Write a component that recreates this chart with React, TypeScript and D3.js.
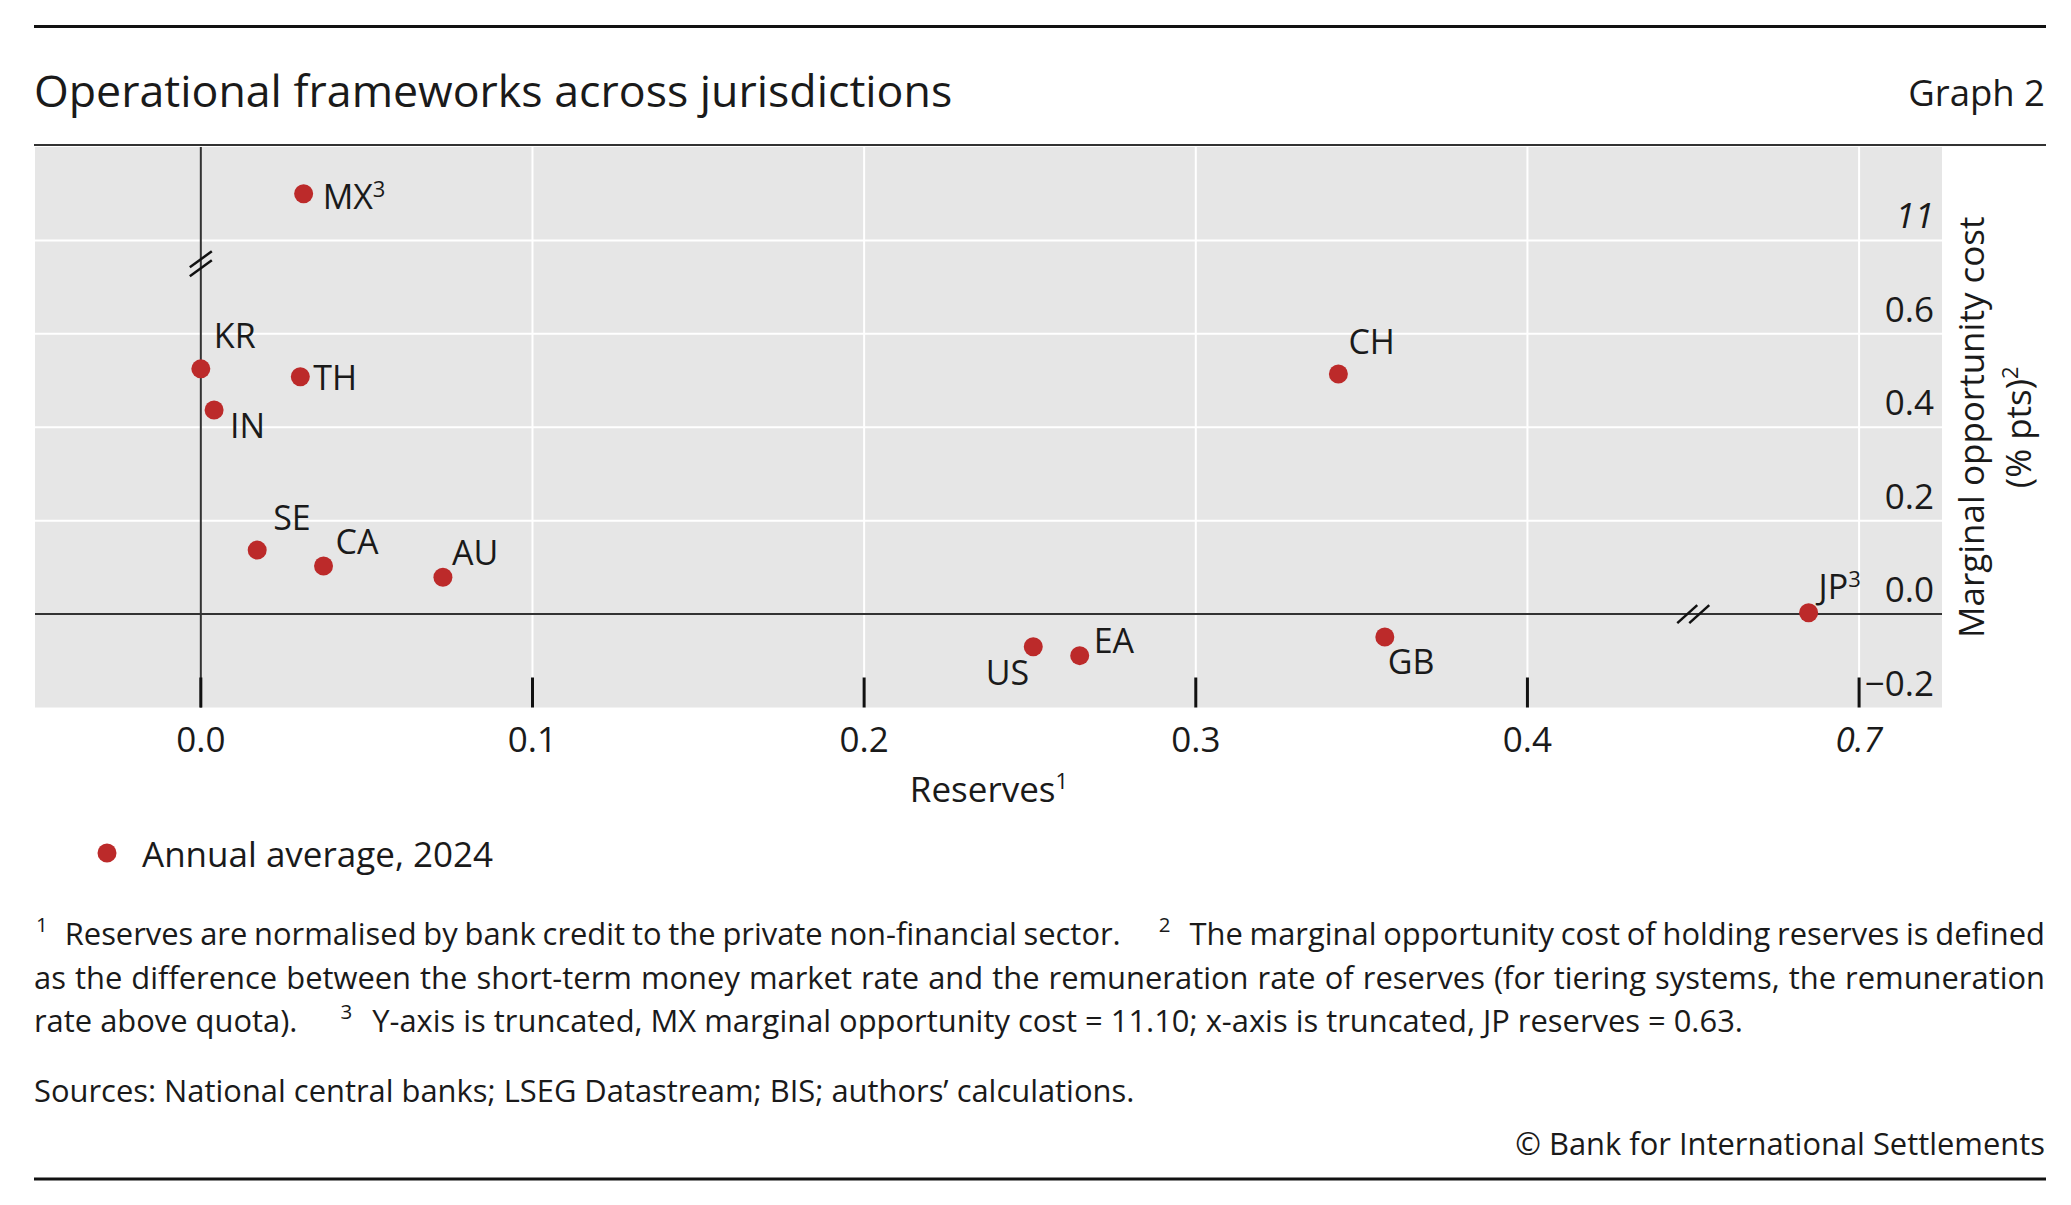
import { useEffect, useRef } from 'react'
import * as d3 from 'd3'

// Annual average, 2024 (MX and JP sit beyond the axis breaks)
const countries = ['MX', 'KR', 'TH', 'IN', 'SE', 'CA', 'AU', 'US', 'EA', 'CH', 'GB', 'JP']
const reserves = [0.031, 0.0, 0.03, 0.004, 0.017, 0.037, 0.073, 0.251, 0.265, 0.343, 0.357, 0.63]
const opportunityCost = [11.1, 0.525, 0.508, 0.437, 0.137, 0.103, 0.079, -0.07, -0.089, 0.514, -0.049, 0.003]
const labelNotes = ['3', '', '', '', '', '', '', '', '', '', '', '3']

const xTicks = [0, 0.1, 0.2, 0.3, 0.4, 0.7]
const yTicks = [-0.2, 0, 0.2, 0.4, 0.6, 11]
const xTruncatedTicks = [0.7]
const yTruncatedTicks = [11]

const title = 'Operational frameworks across jurisdictions'
const graphNo = 'Graph 2'
const legendLabel = 'Annual average, 2024'
const sources = 'Sources: National central banks; LSEG Datastream; BIS; authors’ calculations.'
const copyright = '© Bank for International Settlements'

// label offsets from the dot: dx, dy, anchor
const labelPlacement: Record<string, [number, number, string]> = {
  MX: [19, 15, 'start'],
  KR: [13, -21, 'start'],
  TH: [13, 13, 'start'],
  IN: [16, 28, 'start'],
  SE: [16, -20, 'start'],
  CA: [12, -12, 'start'],
  AU: [9, -12, 'start'],
  US: [-4, 38, 'end'],
  EA: [14, -3, 'start'],
  CH: [10, -20, 'start'],
  GB: [3, 37, 'start'],
  JP: [10, -14, 'start'],
}

const W = 2071
const H = 1205
const plot = { left: 35, right: 1942, top: 147, bottom: 707.5 }
const textColor = '#1a1a1a'
const dotColor = '#bc2a2a'

export default function App() {
  const svgRef = useRef<SVGSVGElement>(null)

  useEffect(() => {
    if (!svgRef.current) return
    const svg = d3.select(svgRef.current)
    svg.selectAll('*').remove()
    svg.attr('font-family', '"Open Sans", "Noto Sans", sans-serif').attr('fill', textColor)

    // positions on the drawn axis, then broken scales on top of them
    const xPos = d3.scaleLinear().domain([-0.05, 0.525]).range([plot.left, plot.right])
    const yPos = d3.scaleLinear().domain([-0.2, 1.0]).range([plot.bottom, plot.top])
    const x = d3
      .scaleLinear()
      .domain([-0.05, 0.45, 0.47, 0.7, 0.815])
      .range([-0.05, 0.45, 0.45, 0.5, 0.525].map(v => xPos(v)))
    const y = d3
      .scaleLinear()
      .domain([-0.2, 0.75, 10.95, 11.2])
      .range([-0.2, 0.75, 0.75, 1.0].map(v => yPos(v)))

    const fmt = d3.format('.1f')
    const tickText = (v: number) => (Number.isInteger(v) && v > 1 ? String(v) : fmt(v))

    // frame lines
    svg.append('line').attr('x1', 34).attr('x2', 2046).attr('y1', 26.5).attr('y2', 26.5)
      .attr('stroke', '#111').attr('stroke-width', 3)
    svg.append('line').attr('x1', 34).attr('x2', 2046).attr('y1', 145).attr('y2', 145)
      .attr('stroke', '#333').attr('stroke-width', 2)
    svg.append('line').attr('x1', 34).attr('x2', 2046).attr('y1', 1179).attr('y2', 1179)
      .attr('stroke', '#111').attr('stroke-width', 3)

    svg.append('text').attr('x', 34).attr('y', 107).attr('font-size', 44.7).text(title)
    svg.append('text').attr('x', 2045).attr('y', 106).attr('font-size', 36.5)
      .attr('text-anchor', 'end').text(graphNo)

    // plot background + grid
    const g = svg.append('g')
    g.append('rect')
      .attr('x', plot.left).attr('y', plot.top)
      .attr('width', plot.right - plot.left).attr('height', plot.bottom - plot.top)
      .attr('fill', '#e6e6e6')

    g.selectAll('.vgrid')
      .data(xTicks.filter(v => v !== 0))
      .join('line')
      .attr('x1', d => x(d)).attr('x2', d => x(d))
      .attr('y1', plot.top).attr('y2', plot.bottom)
      .attr('stroke', '#fff').attr('stroke-width', 2)

    g.selectAll('.hgrid')
      .data(yTicks.filter(v => v !== 0 && v !== -0.2))
      .join('line')
      .attr('x1', plot.left).attr('x2', plot.right)
      .attr('y1', d => y(d)).attr('y2', d => y(d))
      .attr('stroke', '#fff').attr('stroke-width', 2)

    // zero axes
    g.append('line').attr('x1', x(0)).attr('x2', x(0)).attr('y1', plot.top).attr('y2', plot.bottom)
      .attr('stroke', '#333').attr('stroke-width', 2)
    g.append('line').attr('x1', plot.left).attr('x2', plot.right).attr('y1', y(0)).attr('y2', y(0))
      .attr('stroke', '#333').attr('stroke-width', 2)

    // bottom tick marks
    g.selectAll('.xtick')
      .data(xTicks)
      .join('line')
      .attr('x1', d => x(d)).attr('x2', d => x(d))
      .attr('y1', plot.bottom - 30).attr('y2', plot.bottom)
      .attr('stroke', '#111').attr('stroke-width', 3)

    // axis break marks
    const yb = yPos(0.75)
    ;[-4.5, 4.5].forEach(o => {
      g.append('line')
        .attr('x1', x(0) - 11).attr('y1', yb + o + 8)
        .attr('x2', x(0) + 11).attr('y2', yb + o - 8)
        .attr('stroke', '#111').attr('stroke-width', 2.5)
    })
    const xb = xPos(0.45)
    ;[-6, 6].forEach(o => {
      g.append('line')
        .attr('x1', xb + o - 10).attr('y1', y(0) + 9)
        .attr('x2', xb + o + 10).attr('y2', y(0) - 9)
        .attr('stroke', '#111').attr('stroke-width', 2.5)
    })

    // tick labels
    svg.selectAll('.xlabel')
      .data(xTicks)
      .join('text')
      .attr('x', d => x(d)).attr('y', 752)
      .attr('text-anchor', 'middle').attr('font-size', 35)
      .attr('font-style', d => (xTruncatedTicks.includes(d) ? 'italic' : 'normal'))
      .text(d => tickText(d))

    svg.selectAll('.ylabel')
      .data(yTicks)
      .join('text')
      .attr('x', 1934).attr('y', d => y(d) - 12)
      .attr('text-anchor', 'end').attr('font-size', 35)
      .attr('font-style', d => (yTruncatedTicks.includes(d) ? 'italic' : 'normal'))
      .text(d => tickText(d))

    // axis titles
    const xt = svg.append('text').attr('x', 989).attr('y', 802).attr('text-anchor', 'middle').attr('font-size', 35)
    xt.append('tspan').text('Reserves')
    xt.append('tspan').attr('font-size', 22).attr('dy', -13).text('1')

    const cy = (plot.top + plot.bottom) / 2
    svg.append('text')
      .attr('transform', `translate(1984,${cy}) rotate(-90)`)
      .attr('text-anchor', 'middle').attr('font-size', 35)
      .text('Marginal opportunity cost')
    const yt2 = svg.append('text')
      .attr('transform', `translate(2031,${cy}) rotate(-90)`)
      .attr('text-anchor', 'middle').attr('font-size', 35)
    yt2.append('tspan').text('(% pts)')
    yt2.append('tspan').attr('font-size', 22).attr('dy', -13).text('2')

    // points
    const points = countries.map((c, i) => ({ c, x: reserves[i], y: opportunityCost[i], note: labelNotes[i] }))
    g.selectAll('.dot')
      .data(points)
      .join('circle')
      .attr('cx', d => x(d.x)).attr('cy', d => y(d.y))
      .attr('r', 9.5).attr('fill', dotColor)

    points.forEach(d => {
      const [dx, dy, anchor] = labelPlacement[d.c]
      const t = svg.append('text')
        .attr('x', x(d.x) + dx).attr('y', y(d.y) + dy)
        .attr('text-anchor', anchor).attr('font-size', 34)
      t.append('tspan').text(d.c)
      if (d.note) t.append('tspan').attr('font-size', 22).attr('dy', -12).text(d.note)
    })

    // legend
    svg.append('circle').attr('cx', 107).attr('cy', 853).attr('r', 9.5).attr('fill', dotColor)
    svg.append('text').attr('x', 142).attr('y', 867).attr('font-size', 35).text(legendLabel)

    // footnotes
    const fs = 30.9
    const supSize = 20.5
    const rise = 13
    const addLine = (yy: number, parts: { t: string; sup?: boolean; dx?: number }[]) => {
      const t = svg.append('text').attr('x', 36).attr('y', yy).attr('font-size', fs)
      let raised = false
      parts.forEach(p => {
        const sp = t.append('tspan').text(p.t)
        if (p.dx) sp.attr('dx', p.dx)
        if (p.sup && !raised) { sp.attr('font-size', supSize).attr('dy', -rise); raised = true }
        else if (!p.sup && raised) { sp.attr('dy', rise); raised = false }
      })
      return t
    }

    const l1 = addLine(945, [
      { t: '1', sup: true },
      { t: 'Reserves are normalised by bank credit to the private non-financial sector.', dx: 17 },
      { t: '2', sup: true, dx: 38 },
      { t: 'The marginal opportunity cost of holding reserves is defined', dx: 19 },
    ])
    const l2 = addLine(988.5, [
      { t: 'as the difference between the short-term money market rate and the remuneration rate of reserves (for tiering systems, the remuneration' },
    ]).attr('x', 34)
    addLine(1032, [
      { t: 'rate above quota).' },
      { t: '3', sup: true, dx: 43 },
      { t: 'Y-axis is truncated, MX marginal opportunity cost = 11.10; x-axis is truncated, JP reserves = 0.63.', dx: 20 },
    ]).attr('x', 34)

    svg.append('text').attr('x', 34).attr('y', 1102).attr('font-size', fs).text(sources)
    svg.append('text').attr('x', 2045).attr('y', 1155).attr('font-size', fs)
      .attr('text-anchor', 'end').text(copyright)

    // justify the first two footnote lines to the right edge
    const justify = (t: d3.Selection<SVGTextElement, unknown, null, undefined>) => {
      const node = t.node()
      if (!node) return
      t.style('word-spacing', null)
      const box = node.getBBox()
      const spaces = (node.textContent || '').split(' ').length - 1
      if (spaces > 0) t.style('word-spacing', `${(2045 - (box.x + box.width)) / spaces}px`)
    }
    const doJustify = () => { justify(l1 as any); justify(l2 as any) }
    if (document.fonts) document.fonts.ready.then(doJustify)
    else doJustify()
  }, [])

  return (
    <svg
      ref={svgRef}
      width={W}
      height={H}
      style={{ position: 'absolute', left: 0, top: 0, background: '#fff' }}
    />
  )
}
